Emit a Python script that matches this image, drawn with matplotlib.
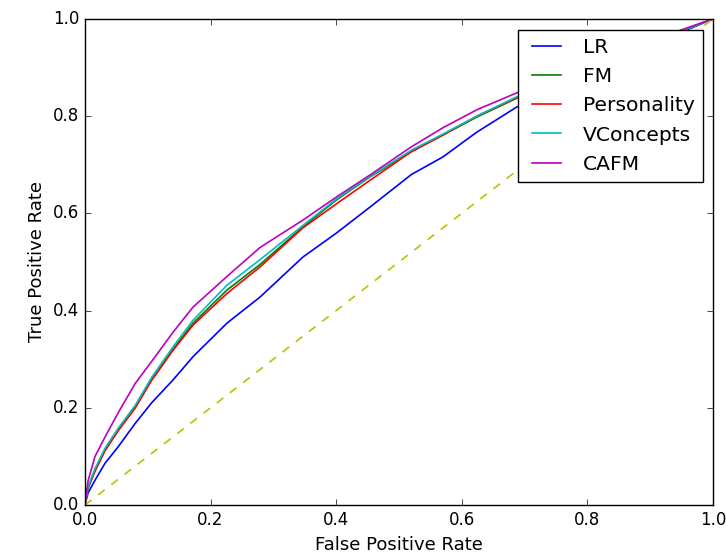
import numpy as np
import matplotlib
matplotlib.use('Agg')
import matplotlib.pyplot as plt

plt.style.use('classic')

# false positive rate grid (shared by all models)
fpr = [0, 0.005, 0.016, 0.032, 0.053, 0.08, 0.106, 0.14, 0.172, 0.226,
       0.279, 0.347, 0.401, 0.454, 0.52, 0.57, 0.624, 0.688, 0.8, 0.9, 1.0]

# true positive rates
tpr_lr = [0, 0.025, 0.051, 0.086, 0.12, 0.168, 0.21, 0.257, 0.305, 0.374,
          0.428, 0.51, 0.56, 0.613, 0.68, 0.716, 0.767, 0.819, 0.885, 0.945, 1.0]
tpr_fm = [0, 0.035, 0.07, 0.113, 0.154, 0.2, 0.258, 0.32, 0.374, 0.442,
          0.495, 0.572, 0.628, 0.675, 0.727, 0.761, 0.798, 0.837, 0.895, 0.95, 1.0]
tpr_pers = [0, 0.035, 0.07, 0.112, 0.153, 0.2, 0.256, 0.318, 0.37, 0.435,
            0.49, 0.57, 0.62, 0.668, 0.727, 0.761, 0.8, 0.838, 0.896, 0.95, 1.0]
tpr_vc = [0, 0.038, 0.075, 0.117, 0.158, 0.205, 0.262, 0.325, 0.38, 0.452,
          0.505, 0.575, 0.63, 0.676, 0.73, 0.763, 0.8, 0.84, 0.897, 0.95, 1.0]
tpr_cafm = [0, 0.05, 0.10, 0.14, 0.19, 0.25, 0.295, 0.355, 0.407, 0.47,
            0.53, 0.586, 0.634, 0.679, 0.737, 0.776, 0.813, 0.848, 0.905, 0.955, 1.0]

fig = plt.figure(figsize=(7.26, 5.55), dpi=100)
fig.patch.set_facecolor('white')
ax = fig.add_axes([0.117, 0.090, 0.865, 0.876])

lw = 1.2
ax.plot(fpr, tpr_lr, 'b', lw=lw, label='LR')
ax.plot(fpr, tpr_fm, 'g', lw=lw, label='FM')
ax.plot(fpr, tpr_pers, 'r', lw=lw, label='Personality')
ax.plot(fpr, tpr_vc, 'c', lw=lw, label='VConcepts')
ax.plot(fpr, tpr_cafm, 'm', lw=lw, label='CAFM')
ax.plot([0, 1], [0, 1], 'y--', lw=lw)

ax.set_xlim(0, 1)
ax.set_ylim(0, 1)
ax.set_xlabel('False Positive Rate', fontsize=13)
ax.set_ylabel('True Positive Rate', fontsize=13)
ax.tick_params(labelsize=12)

leg = ax.legend(loc='upper right', fontsize=14.6, borderaxespad=0,
                bbox_to_anchor=(0.984, 0.977))

fig.savefig('out.png', dpi=100, facecolor='white')
